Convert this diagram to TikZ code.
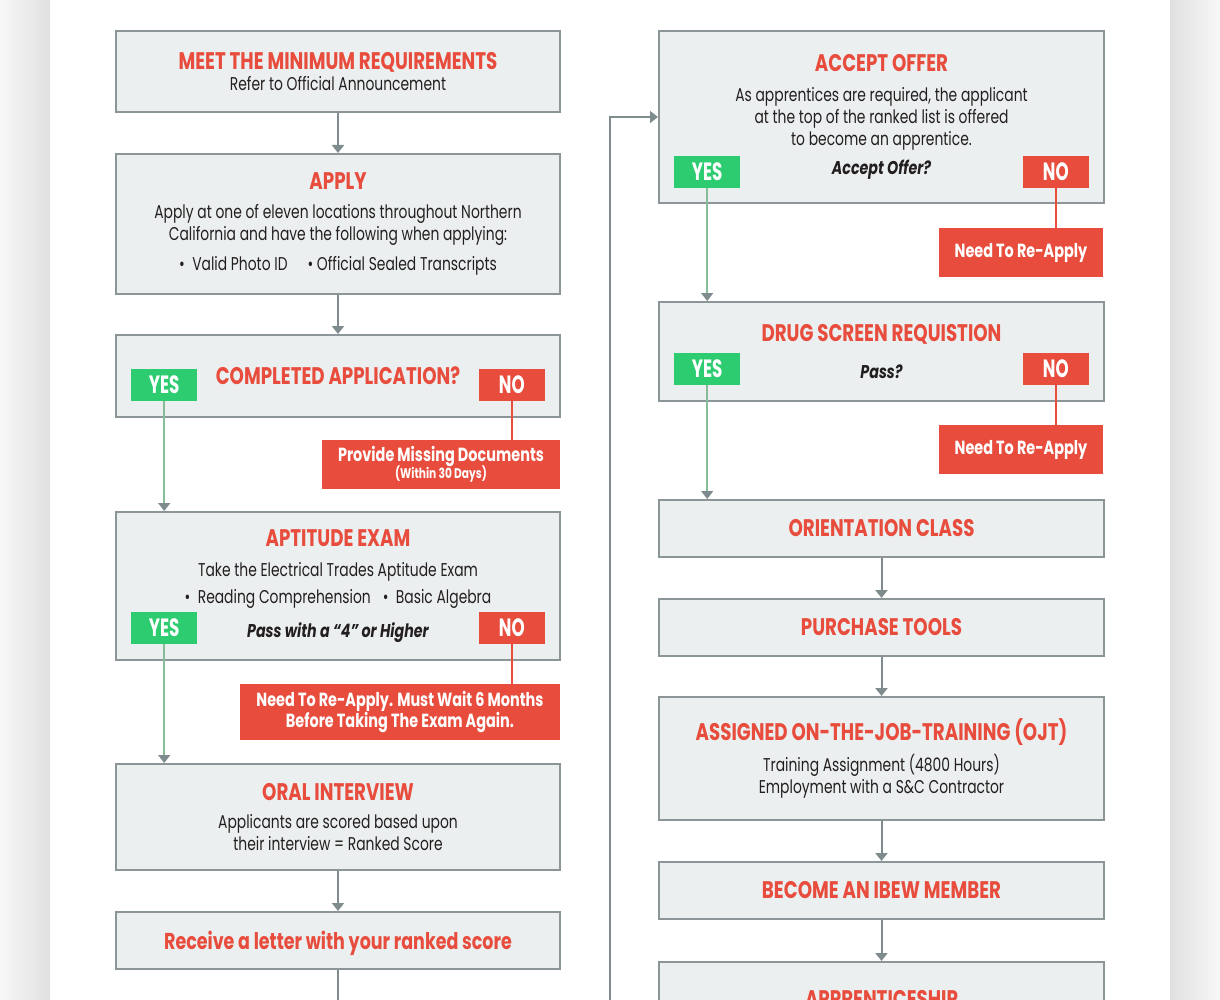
\documentclass[tikz,border=0pt]{standalone}
\usepackage{fontspec}
\setmainfont{Poppins}[FakeStretch=0.75, BoldFeatures={FakeStretch=0.76}, BoldItalicFeatures={FakeStretch=0.77}]
\newfontfamily\badgefont{Poppins}[FakeStretch=0.67]
\usetikzlibrary{arrows.meta}

\definecolor{ibred}{HTML}{E74C3C}
\definecolor{ibgreen}{HTML}{2ECC71}
\definecolor{boxfill}{HTML}{ECEFF0}
\definecolor{boxline}{HTML}{8C9699}
\definecolor{flowgray}{HTML}{7F8C8D}
\definecolor{yesline}{HTML}{86BC98}
\definecolor{bodytext}{HTML}{231F20}

\newcommand\steptitle[1]{{\fontsize{24}{28}\selectfont\bfseries\color{ibred}#1}}
\newcommand\stepask[1]{{\fontsize{18.5}{21}\selectfont\bfseries\itshape #1}}

\tikzset{
  stepbox/.style={draw=boxline, line width=2pt, fill=boxfill, align=center, text=bodytext,
    font=\fontsize{18.5}{21}\selectfont, inner sep=0pt},
  leftbox/.style={stepbox, minimum width=444pt},
  rightbox/.style={stepbox, minimum width=445pt},
  yesbadge/.style={fill=ibgreen, text=white, font=\badgefont\fontsize{25}{25}\selectfont\bfseries,
    minimum width=66pt, minimum height=32pt, inner sep=0pt},
  nobadge/.style={yesbadge, fill=ibred},
  failbox/.style={fill=ibred, text=white, align=center, font=\fontsize{19}{19}\selectfont\bfseries, inner sep=0pt},
  flow/.style={draw=flowgray, line width=2pt, -{Triangle[width=12pt,length=8pt]}},
  flowline/.style={draw=flowgray, line width=2pt},
  loopflow/.style={draw=flowgray, line width=1.5pt, -{Triangle[width=12pt,length=8pt]}},
  yesflow/.style={draw=yesline, line width=1.5pt, -{Triangle[width=12pt,length=8pt,color=flowgray]}},
  noline/.style={draw=ibred, line width=1.5pt},
}

\begin{document}
\begin{tikzpicture}[x=1pt, y=-1pt]
\useasboundingbox (0,0) rectangle (1220,1000);
\clip (0,0) rectangle (1220,1000);
\fill[white] (0,0) rectangle (1220,1000);
\shade[left color=white!97!black, right color=white!88!black] (0,0) rectangle (50,1000);
\shade[left color=white!88!black, right color=white!97!black] (1170,0) rectangle (1220,1000);

\node[leftbox, minimum height=81pt] (req) at (338,71.5)
  {\steptitle{MEET THE MINIMUM REQUIREMENTS}\\ Refer to Official Announcement};
\node[leftbox, minimum height=140pt] (apply) at (338,224)
  {\steptitle{APPLY}\\[8pt] Apply at one of eleven locations throughout Northern\\[1pt]
   California and have the following when applying:\\[9pt]
   \textbullet\ \ Valid Photo ID\hspace{20pt}\textbullet\ Official Sealed Transcripts};
\node[leftbox, minimum height=82pt] (complete) at (338,376) {\steptitle{COMPLETED APPLICATION?}};
\node[yesbadge, anchor=south west] (yes1) at ([xshift=16pt, yshift=17pt]complete.south west) {YES};
\node[nobadge, anchor=south east] (no1) at ([xshift=-16pt, yshift=17pt]complete.south east) {NO};
\node[failbox, minimum width=238pt, minimum height=49pt] (missing) at (441,464.5)
  {Provide Missing Documents\\[-2pt] {\fontsize{14}{15}\selectfont (Within 30 Days)}};
\node[leftbox, minimum height=148pt] (exam) at (338,586)
  {\steptitle{APTITUDE EXAM}\\[9.5pt] Take the Electrical Trades Aptitude Exam\\[6pt]
   \textbullet\ \ Reading Comprehension\hspace{12pt}\textbullet\ \ Basic Algebra\\[13pt]
   \stepask{Pass with a “4” or Higher}};
\node[yesbadge, anchor=south west] (yes2) at ([xshift=16pt, yshift=17pt]exam.south west) {YES};
\node[nobadge, anchor=south east] (no2) at ([xshift=-16pt, yshift=17pt]exam.south east) {NO};
\node[failbox, minimum width=320pt, minimum height=56pt] (examfail) at (400,712)
  {Need To Re-Apply. Must Wait 6 Months\\ Before Taking The Exam Again.};
\node[leftbox, minimum height=106pt] (oral) at (338,817)
  {\steptitle{ORAL INTERVIEW}\\[7.5pt] Applicants are scored based upon\\[1pt] their interview = Ranked Score};
\node[leftbox, minimum height=57pt, text depth=0pt, text=ibred,
  font=\fontsize{23}{26}\selectfont\bfseries] (letter) at (338,940.5)
  {Receive a letter with your ranked score};
\coordinate (offpage) at (338,1000);

\node[rightbox, minimum height=172pt] (accept) at (881.5,117)
  {\steptitle{ACCEPT OFFER}\\[8.5pt] As apprentices are required, the applicant\\[1pt]
   at the top of the ranked list is offered\\[1pt] to become an apprentice.\\[8pt]
   \stepask{Accept Offer?}};
\node[yesbadge, anchor=south west] (yes3) at ([xshift=16pt, yshift=16pt]accept.south west) {YES};
\node[nobadge, anchor=south east] (no3) at ([xshift=-16pt, yshift=16pt]accept.south east) {NO};
\node[failbox, minimum width=164pt, minimum height=49pt] (acceptfail) at (1021,252.5) {Need To Re-Apply};
\node[rightbox, minimum height=99pt] (drug) at (881.5,351.5)
  {\steptitle{DRUG SCREEN REQUISTION}\\[16pt] \stepask{Pass?}};
\node[yesbadge, anchor=south west] (yes4) at ([xshift=16pt, yshift=17pt]drug.south west) {YES};
\node[nobadge, anchor=south east] (no4) at ([xshift=-16pt, yshift=17pt]drug.south east) {NO};
\node[failbox, minimum width=164pt, minimum height=49pt] (drugfail) at (1021,449.5) {Need To Re-Apply};
\node[rightbox, minimum height=57pt] (orient) at (881.5,528.5) {\steptitle{ORIENTATION CLASS}};
\node[rightbox, minimum height=57pt] (tools) at (881.5,627.5) {\steptitle{PURCHASE TOOLS}};
\node[rightbox, minimum height=123pt] (ojt) at (881.5,758.5)
  {\steptitle{ASSIGNED ON-THE-JOB-TRAINING (OJT)}\\[8.5pt] Training Assignment (4800 Hours)\\[1pt]
   Employment with a S\&C Contractor};
\node[rightbox, minimum height=57pt] (ibew) at (881.5,890.5) {\steptitle{BECOME AN IBEW MEMBER}};
\node[rightbox, anchor=north, inner ysep=28pt] (appr) at (881.5,961) {\steptitle{APPRENTICESHIP}};
\coordinate (loopstart) at (610,1000);

\draw[flow] (req) -- (apply);
\draw[flow] (apply) -- (complete);
\draw[yesflow] (yes1) -- (yes1 |- exam.north);
\draw[noline] (no1) -- (no1 |- missing.north);
\draw[yesflow] (yes2) -- (yes2 |- oral.north);
\draw[noline] (no2) -- (no2 |- examfail.north);
\draw[flow] (oral) -- (letter);
\draw[flowline] (letter) -- (offpage);
\draw[loopflow] (loopstart) |- (accept.west);
\draw[yesflow] (yes3) -- (yes3 |- drug.north);
\draw[noline] (no3) -- (no3 |- acceptfail.north);
\draw[yesflow] (yes4) -- (yes4 |- orient.north);
\draw[noline] (no4) -- (no4 |- drugfail.north);
\draw[flow] (orient) -- (tools);
\draw[flow] (tools) -- (ojt);
\draw[flow] (ojt) -- (ibew);
\draw[flow] (ibew) -- (appr);
\end{tikzpicture}
\end{document}
